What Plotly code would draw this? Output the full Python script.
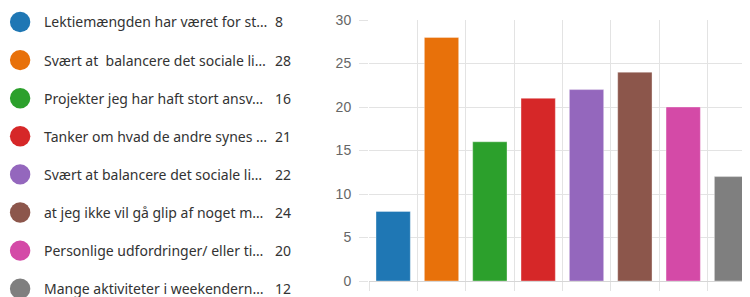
import plotly.graph_objects as go

labels = [
    "Lektiemængden har været for st…",
    "Svært at  balancere det sociale li…",
    "Projekter jeg har haft stort ansv…",
    "Tanker om hvad de andre synes …",
    "Svært at balancere det sociale li…",
    "at jeg ikke vil gå glip af noget m…",
    "Personlige udfordringer/ eller ti…",
    "Mange aktiviteter i weekendern…",
]
values = [8, 28, 16, 21, 22, 24, 20, 12]
colors = ["#1f77b4", "#e8710a", "#2ca02c", "#d62728",
          "#9467bd", "#8c564b", "#d44aa7", "#7f7f7f"]
y_ticks = [0, 5, 10, 15, 20, 25, 30]

OFF = 8  # page body margin
W, H = 750 - OFF, 297 - OFF
plot_left = 369.3 - OFF
plot_top = 20 - OFF
plot_bottom = 281 - OFF
plot_w = W - plot_left
plot_h = plot_bottom - plot_top
slot = 48.3
x_end = -0.5 + plot_w / slot


def px(x):
    return (x - OFF - plot_left) / plot_w


def py(y):
    return (plot_bottom - (y - OFF)) / plot_h


cats = [str(i) for i in range(len(values))]

fig = go.Figure()
fig.add_trace(go.Bar(
    x=cats, y=values,
    marker=dict(color=colors, line=dict(color="rgba(255,255,255,0.35)", width=1)),
    width=0.71,
    showlegend=False, hoverinfo="skip",
))

shapes = []
annotations = []
row0 = 22.0
row_step = 38.1
r = 10.2
for i, (lab, val, col) in enumerate(zip(labels, values, colors)):
    yc = row0 + i * row_step
    shapes.append(dict(type="circle", xref="paper", yref="paper",
                       x0=px(20.7 - r), x1=px(20.7 + r),
                       y0=py(yc + r), y1=py(yc - r),
                       fillcolor=col, line=dict(width=0)))
    annotations.append(dict(xref="paper", yref="paper", x=px(43), y=py(yc),
                            text=lab, showarrow=False, xanchor="left", yanchor="middle",
                            font=dict(family="Noto Sans", size=14, color="#333333")))
    annotations.append(dict(xref="paper", yref="paper", x=px(273), y=py(yc),
                            text=str(val), showarrow=False, xanchor="left", yanchor="middle",
                            font=dict(family="Noto Sans", size=14, color="#333333")))

fig.update_layout(
    width=W, height=H,
    margin=dict(l=plot_left, r=0, t=plot_top, b=H - plot_bottom, pad=0, autoexpand=False),
    paper_bgcolor="white", plot_bgcolor="white",
    shapes=shapes, annotations=annotations,
    xaxis=dict(
        type="category", range=[-0.5, x_end], tickson="boundaries",
        showticklabels=False, ticks="outside", ticklen=9, tickcolor="#e3e3e3",
        showgrid=True, gridcolor="#e3e3e3", gridwidth=1,
        showline=False, zeroline=False, fixedrange=True,
    ),
    yaxis=dict(
        range=[0, 30], tickvals=y_ticks, ticktext=[str(v) for v in y_ticks],
        ticks="outside", ticklen=9, tickcolor="#e3e3e3",
        showgrid=True, gridcolor="#e3e3e3", gridwidth=1,
        zeroline=True, zerolinecolor="#d6d6d6", zerolinewidth=1,
        showline=False,
        tickfont=dict(family="Liberation Sans", size=14, color="#666666"),
        ticklabelstandoff=5,
    ),
)

fig.write_html(
    "out.html",
    post_script=("document.documentElement.style.overflow='hidden';"
                 "document.body.style.overflow='hidden';"),
)
